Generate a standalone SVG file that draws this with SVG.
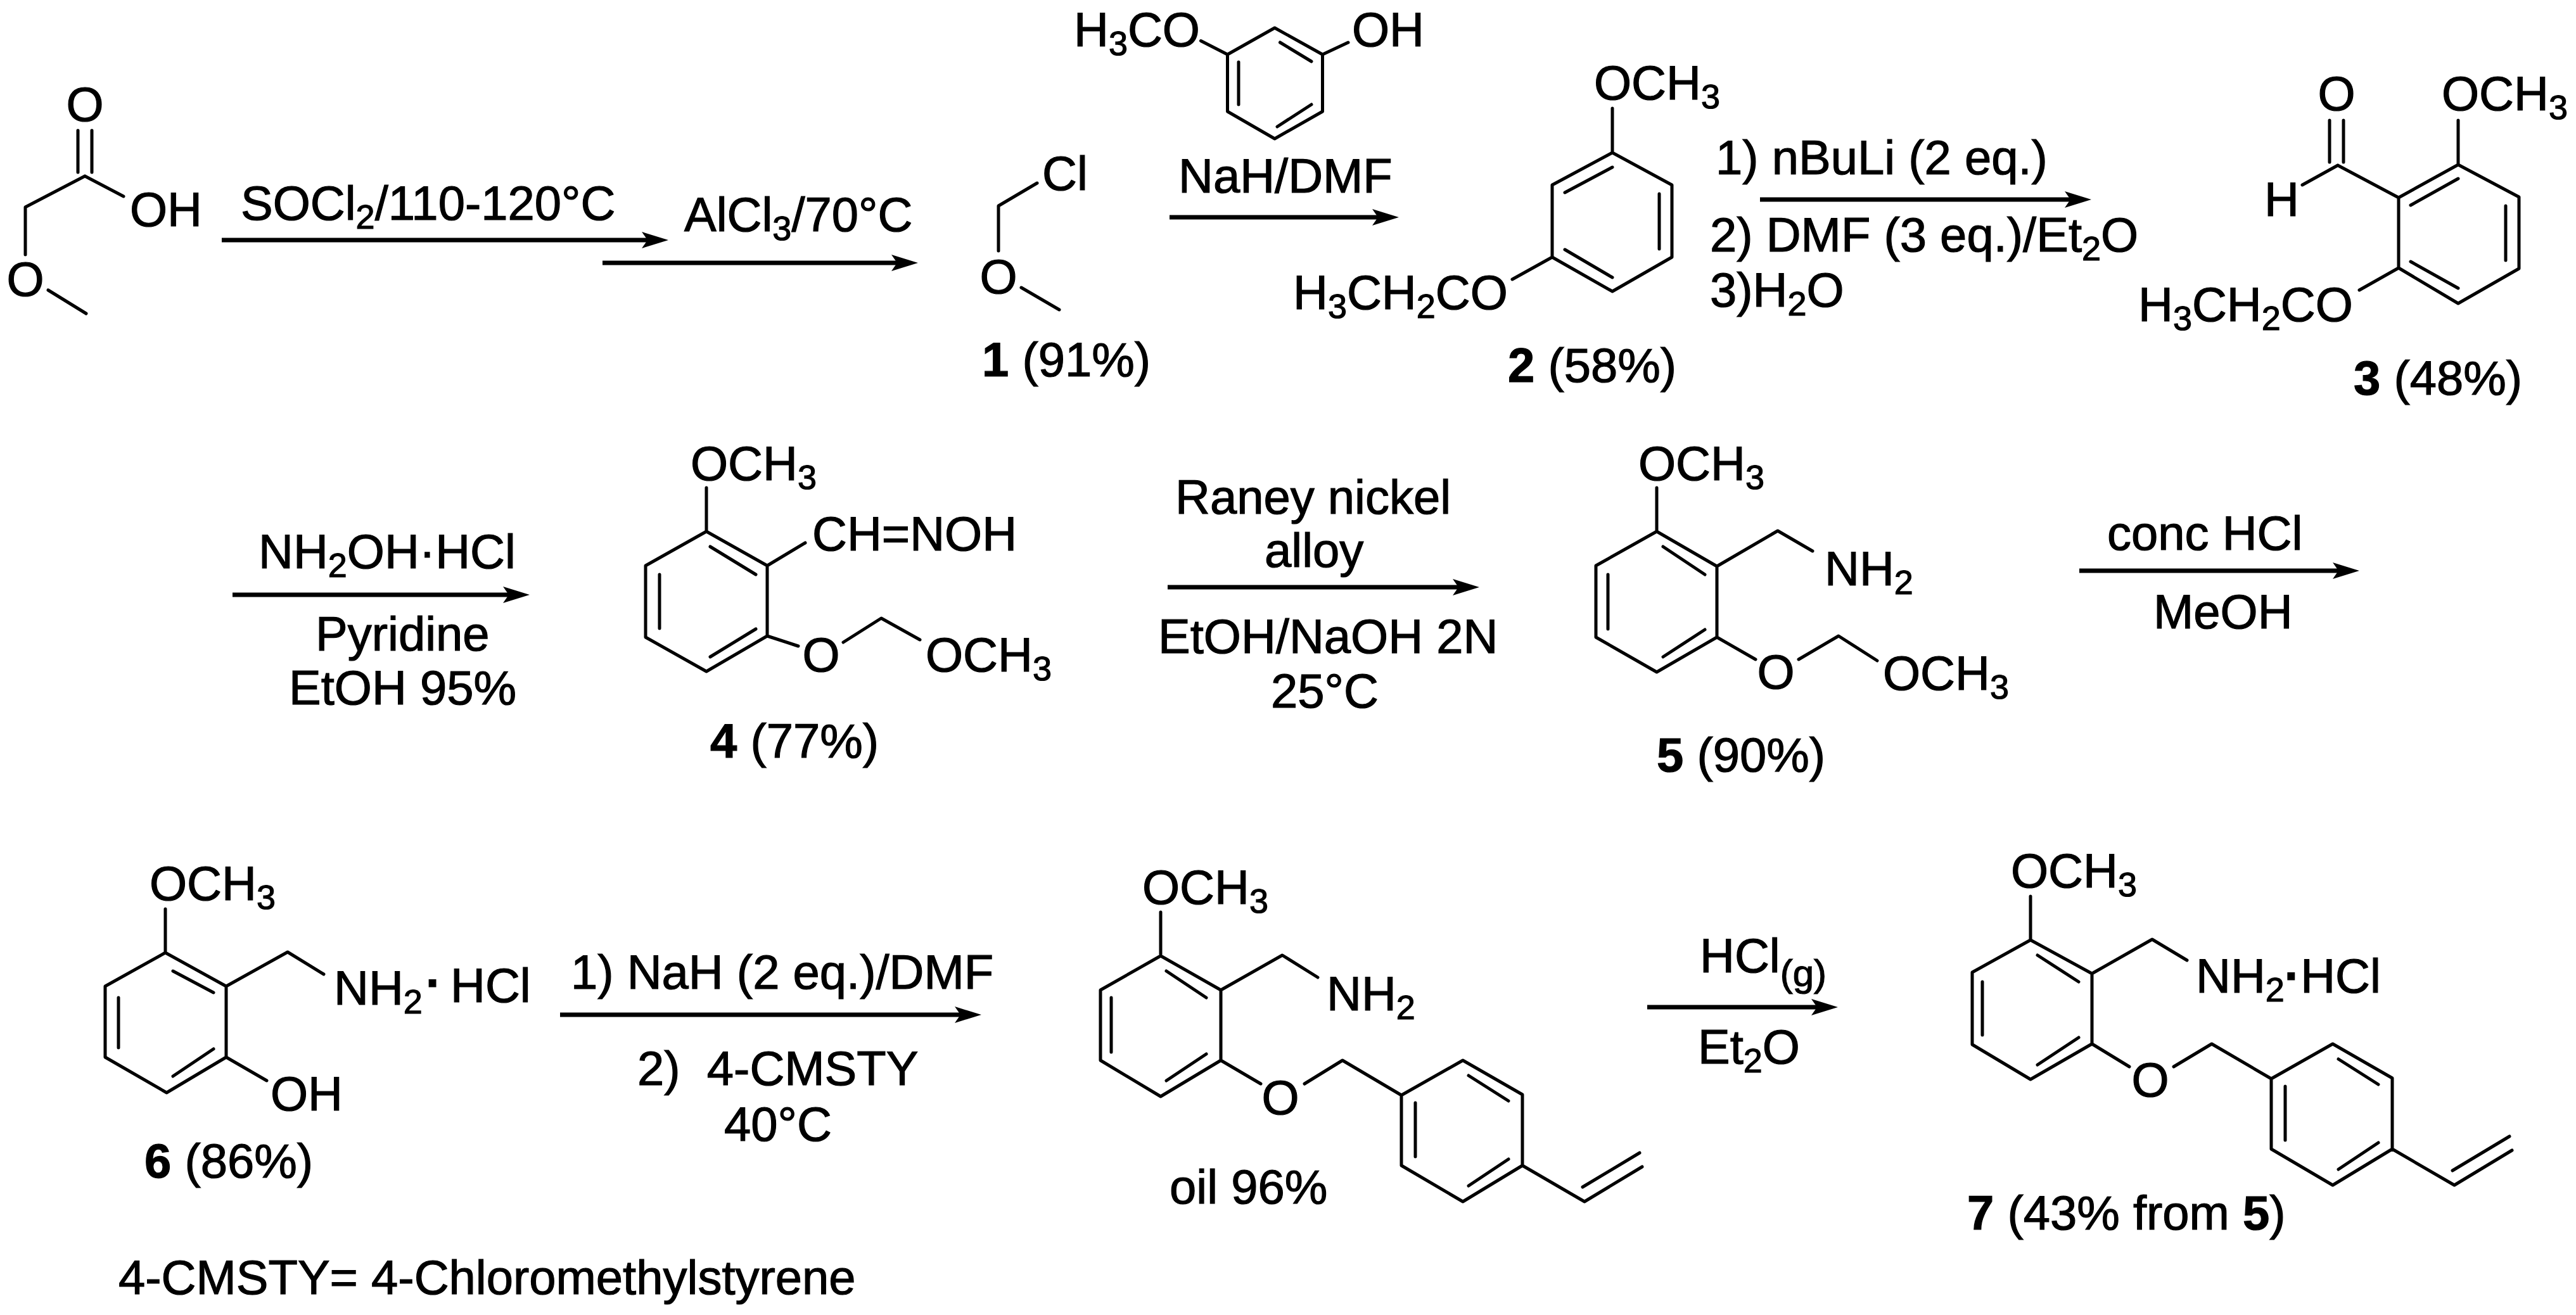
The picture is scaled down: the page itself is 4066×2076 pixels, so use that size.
<svg xmlns="http://www.w3.org/2000/svg" width="4066" height="2076" viewBox="0 0 4066 2076">
<style>
text{font-family:"Liberation Sans",Arial,sans-serif;font-size:76px;fill:#000;stroke:#000;stroke-width:1.2px}
.s{font-size:54px}
.g{font-size:60px}
.n{font-weight:700}
.b{fill:none;stroke:#000;stroke-width:5;stroke-linecap:round;stroke-linejoin:round}
.a{stroke:#000;stroke-width:7;fill:none;marker-end:url(#h)}
</style>
<defs>
<marker id="h" markerUnits="userSpaceOnUse" markerWidth="44" markerHeight="30" refX="17" refY="15" orient="auto"><path d="M0 2L42 15L0 28L9 15Z" fill="#000"/></marker>
</defs>
<rect width="4066" height="2076" fill="#fff"/>
<g id="connectors">
<line class="a" x1="350" y1="379" x2="1030" y2="379"/>
<line class="a" x1="951" y1="415" x2="1424" y2="415"/>
<line class="a" x1="1846" y1="343" x2="2183" y2="343"/>
<line class="a" x1="2778" y1="315" x2="3276" y2="315"/>
<line class="a" x1="367" y1="939" x2="811" y2="939"/>
<line class="a" x1="1843" y1="927" x2="2310" y2="927"/>
<line class="a" x1="3282" y1="901" x2="3699" y2="901"/>
<line class="a" x1="884" y1="1602" x2="1524" y2="1602"/>
<line class="a" x1="2600" y1="1590" x2="2876" y2="1590"/>
</g>
<g id="reagents">
<text x="380" y="347">SOCl<tspan class="s" dy="14">2</tspan><tspan dy="-14">/110-120°C</tspan></text>
<text x="1080" y="365">AlCl<tspan class="s" dy="14">3</tspan><tspan dy="-14">/70°C</tspan></text>
<text x="1860" y="304">NaH/DMF</text>
<text x="2708" y="275">1) nBuLi (2 eq.)</text>
<text x="2699" y="397">2) DMF (3 eq.)/Et<tspan class="s" dy="14">2</tspan><tspan dy="-14">O</tspan></text>
<text x="2699" y="484">3)H<tspan class="s" dy="14">2</tspan><tspan dy="-14">O</tspan></text>
<text x="408" y="897">NH<tspan class="s" dy="14">2</tspan><tspan dy="-14">OH·HCl</tspan></text>
<text x="498" y="1027">Pyridine</text>
<text x="456" y="1112">EtOH 95%</text>
<text x="1855" y="811">Raney nickel</text>
<text x="1996" y="895">alloy</text>
<text x="1828" y="1031">EtOH/NaOH 2N</text>
<text x="2006" y="1117">25°C</text>
<text x="3326" y="868">conc HCl</text>
<text x="3399" y="992">MeOH</text>
<text x="901" y="1561">1) NaH (2 eq.)/DMF</text>
<text x="1006" y="1713" xml:space="preserve">2)  4-CMSTY</text>
<text x="1143" y="1801">40°C</text>
<text x="2683" y="1535">HCl<tspan class="g" dy="22">(g)</tspan></text>
<text x="2680" y="1679">Et<tspan class="s" dy="14">2</tspan><tspan dy="-14">O</tspan></text>
<text x="187" y="2043">4-CMSTY= 4-Chloromethylstyrene</text>
</g>
<g id="acid">
<path class="b" d="M123 206V272M145 206V272M134 278L40 327V402M134 278L195 310M76 458L136 495"/>
<text x="134" y="191" text-anchor="middle">O</text>
<text x="205" y="357">OH</text>
<text x="40" y="467" text-anchor="middle">O</text>
</g>
<g id="mol1">
<path class="b" d="M1637 289L1576 325V396M1612 454L1672 489"/>
<text x="1645" y="300">Cl</text>
<text x="1576" y="463" text-anchor="middle">O</text>
<text x="1550" y="594"><tspan class="n">1</tspan> (91%)</text>
</g>
<g id="methoxyphenol">
<path class="b" d="M2012 44L2087.5 86V176L2012 219L1937.5 176V86ZM2020.5 67L2070 97M1955 98V165M2070 165L2016 200M1937.5 86L1895.5 64.5M2087.5 86L2128 67"/>
<text x="1695" y="73">H<tspan class="s" dy="14">3</tspan><tspan dy="-14">CO</tspan></text>
<text x="2134" y="73">OH</text>
</g>
<g id="mol2">
<path class="b" d="M2545 171V241M2545 241L2639 292V406L2545 460L2450 406V292ZM2470 304L2545 264M2619 306V393M2470 394L2545 438M2450 406L2387 441"/>
<text x="2516" y="157">OCH<tspan class="s" dy="14">3</tspan></text>
<text x="2041" y="488">H<tspan class="s" dy="14">3</tspan><tspan dy="-14">CH</tspan><tspan class="s" dy="14">2</tspan><tspan dy="-14">CO</tspan></text>
<text x="2380" y="603"><tspan class="n">2</tspan> (58%)</text>
</g>
<g id="mol3">
<path class="b" d="M3677 190V256M3699 190V256M3690 261L3634 292M3690 261L3786 312M3880 190V260M3880 260L3976 311V424L3880 479L3786 423V312ZM3805 324L3880 282M3955 325V411M3805 413L3880 455M3786 423L3724 458"/>
<text x="3688" y="174" text-anchor="middle">O</text>
<text x="3574" y="341">H</text>
<text x="3854" y="174">OCH<tspan class="s" dy="14">3</tspan></text>
<text x="3375" y="507">H<tspan class="s" dy="14">3</tspan><tspan dy="-14">CH</tspan><tspan class="s" dy="14">2</tspan><tspan dy="-14">CO</tspan></text>
<text x="3715" y="623"><tspan class="n">3</tspan> (48%)</text>
</g>
<g id="mol4">
<path class="b" d="M1115 770V839M1115 839L1211 893V1004L1115 1060L1019 1006V893ZM1121 863L1193 907M1041 907V992M1121 1037L1193 993M1211 893L1271 857M1211 1004L1260 1020M1331 1014L1391 976L1452 1010"/>
<text x="1090" y="758">OCH<tspan class="s" dy="14">3</tspan></text>
<text x="1282" y="869">CH=NOH</text>
<text x="1296" y="1060" text-anchor="middle">O</text>
<text x="1461" y="1060">OCH<tspan class="s" dy="14">3</tspan></text>
<text x="1121" y="1196"><tspan class="n">4</tspan> (77%)</text>
</g>
<g id="mol5">
<path class="b" d="M2615 770V839M2615 839L2710 894V1006L2615 1061L2519 1006V893ZM2625 863L2691 907M2538 907V993M2625 1037L2691 994M2710 894L2806 838L2861 870M2710 1006L2771 1041M2839 1041L2902 1004L2963 1043"/>
<text x="2586" y="758">OCH<tspan class="s" dy="14">3</tspan></text>
<text x="2880" y="924">NH<tspan class="s" dy="14">2</tspan></text>
<text x="2803" y="1087" text-anchor="middle">O</text>
<text x="2972" y="1089">OCH<tspan class="s" dy="14">3</tspan></text>
<text x="2615" y="1218"><tspan class="n">5</tspan> (90%)</text>
</g>
<g id="mol6">
<path class="b" d="M261 1435V1504M261 1504L357 1557V1669L263 1725L166 1669V1557ZM273 1533L337 1567M187 1575V1654M273 1699L337 1656M357 1557L454 1503L511 1538M357 1669L421 1706"/>
<text x="236" y="1421">OCH<tspan class="s" dy="14">3</tspan></text>
<text x="527" y="1586">NH<tspan class="s" dy="14">2</tspan></text>
<text x="672" y="1578" class="n">·</text>
<text x="711" y="1582">HCl</text>
<text x="427" y="1753">OH</text>
<text x="228" y="1859"><tspan class="n">6</tspan> (86%)</text>
</g>
<g id="oil">
<path class="b" d="M1832 1440V1509M1832 1509L1927 1563V1674L1832 1731L1737 1674V1563ZM1841 1533L1904 1575M1754 1575V1661M1841 1706L1904 1664M1927 1563L2024 1508L2080 1543M1927 1674L1990 1711M2059 1711L2119 1674L2212 1729M2212 1729L2309 1674L2403 1728V1840L2309 1897L2212 1840ZM2318 1698L2381 1738M2234 1741V1826M2318 1872L2381 1830M2403 1840L2501 1897L2592 1842M2498 1874L2588 1820"/>
<text x="1803" y="1427">OCH<tspan class="s" dy="14">3</tspan></text>
<text x="2094" y="1595">NH<tspan class="s" dy="14">2</tspan></text>
<text x="2021" y="1759" text-anchor="middle">O</text>
<text x="1846" y="1900">oil 96%</text>
</g>
<g id="mol7">
<path class="b" d="M3205 1415V1484M3205 1484L3302 1537V1648L3205 1704L3113 1649V1535ZM3216 1508L3281 1550M3129 1550V1634M3216 1681L3281 1638M3302 1537L3397 1483L3452 1516M3302 1648L3361 1684M3431 1684L3491 1648L3585 1703M3585 1703L3682 1648L3776 1702V1814L3682 1871L3585 1814ZM3691 1672L3754 1712M3607 1715V1800M3691 1846L3754 1804M3776 1814L3874 1871L3965 1816M3871 1848L3961 1794"/>
<text x="3174" y="1401">OCH<tspan class="s" dy="14">3</tspan></text>
<text x="3466" y="1567">NH<tspan class="s" dy="14">2</tspan><tspan dy="-14" class="n">·</tspan><tspan>HCl</tspan></text>
<text x="3394" y="1731" text-anchor="middle">O</text>
<text x="3105" y="1941"><tspan class="n">7</tspan> (43% from <tspan class="n">5</tspan>)</text>
</g>
</svg>
